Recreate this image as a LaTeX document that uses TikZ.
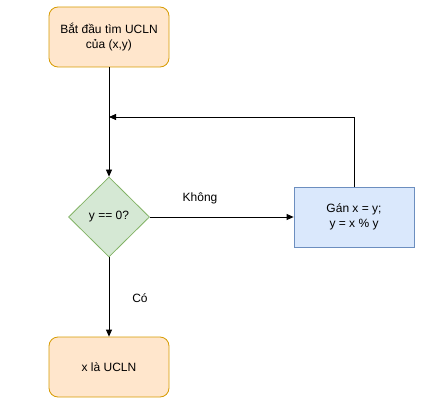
\documentclass[tikz,border=0pt]{standalone}
\usepackage{fontspec}
\setmainfont{Liberation Sans}
\usetikzlibrary{shapes.geometric,arrows.meta}
\definecolor{termfill}{HTML}{FFE6CC}
\definecolor{termline}{HTML}{D79B00}
\definecolor{condfill}{HTML}{D5E8D4}
\definecolor{condline}{HTML}{82B366}
\definecolor{procfill}{HTML}{DAE8FC}
\definecolor{procline}{HTML}{6C8EBF}
\begin{document}
\begin{tikzpicture}[x=1pt, y=-1pt, font=\fontsize{12}{14.5}\selectfont, line width=0.8pt,
    terminal/.style={rectangle, rounded corners=9pt, draw=termline, fill=termfill, minimum width=120pt, minimum height=60pt, align=center},
    decision/.style={diamond, draw=condline, fill=condfill, minimum width=81pt, minimum height=80pt, inner sep=0pt},
    process/.style={rectangle, draw=procline, fill=procfill, minimum width=120pt, minimum height=60pt, align=center},
    arrow/.style={-{Triangle[length=7pt,width=6pt]}, black},
    label/.style={inner sep=0pt}]
    \useasboundingbox (0,0) rectangle (446,414);

    % Nodes
    \node[terminal] (start) at (109,37) {Bắt đầu tìm UCLN\\của (x,y)};
    \node[decision] (check) at (109,217) {y == 0?};
    \node[process] (assign) at (354,217) {Gán x = y;\\y = x \% y};
    \node[terminal] (result) at (109,367) {x là UCLN};
    \coordinate (turn) at (354,117);
    \coordinate (join) at (109,117);

    % Edges
    \draw[arrow] (start) -- (check);
    \draw[arrow] (check) -- (assign);
    \draw[arrow] (check) -- (result);
    \draw[arrow] (assign) -- (turn) -- (join); % back to the test

    % Label
    \node[label] (lblno) at (200,198) {Không};
    \node[label] (lblyes) at (140,298) {Có};
\end{tikzpicture}
\end{document}
